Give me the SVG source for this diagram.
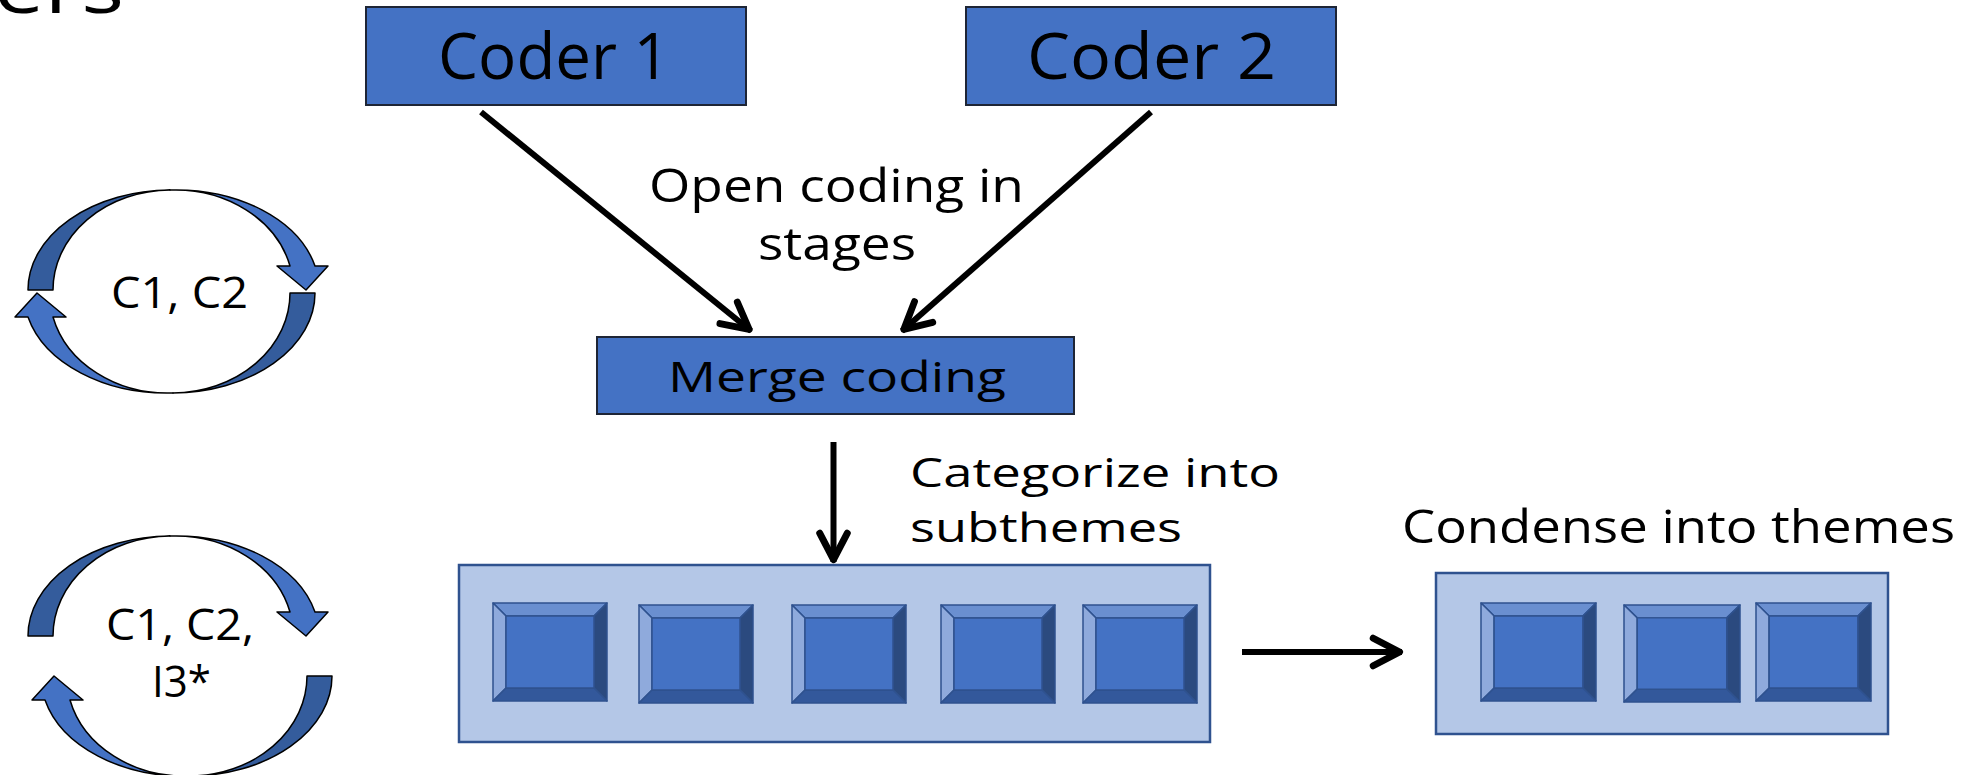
<svg xmlns="http://www.w3.org/2000/svg" xmlns:xlink="http://www.w3.org/1999/xlink" width="1964" height="775" viewBox="0 0 1964 775">
<style>
.t{font-family:'Open Sans','Liberation Sans',sans-serif;fill:#000;}
.box{fill:#4472C4;stroke:#1E2535;stroke-width:2;}
.cont{fill:#B4C7E7;stroke:#2F528F;stroke-width:2.5;}
.con{fill:none;stroke:#000;stroke-width:6;}
.dk{fill:#345C9C;stroke:#000;stroke-width:1.5;stroke-linejoin:round;}
.lt{fill:#4472C4;stroke:#000;stroke-width:1.5;stroke-linejoin:round;}
.bv{stroke:#2F528F;stroke-width:1.5;stroke-linejoin:round;}
</style>
<defs>
<marker id="arr" viewBox="-7 -5 9 10" refX="0.4" refY="0" markerWidth="9" markerHeight="10" orient="auto" markerUnits="strokeWidth" overflow="visible">
<path d="M-4.4,-2.3 L0,0 L-4.4,2.3" fill="none" stroke="#000" stroke-width="1.15" stroke-linecap="round" stroke-linejoin="round"/>
</marker>
<g id="arcTop">
<path class="dk" d="M28,290 A143,100 0 0 1 170,190 A118,100 0 0 0 53,290 Z"/>
<path class="lt" d="M170,190 A143,100 0 0 1 315,266 L328,266 L306,290 L277,266 L290,266 A118,100 0 0 0 170,190 Z"/>
</g>
<symbol id="bevel" viewBox="0 0 114 98" preserveAspectRatio="none" overflow="visible">
<path class="bv" fill="#6A8FD0" d="M0,0 H114 L101,13 H13 Z"/>
<path class="bv" fill="#8FAADC" d="M0,0 L13,13 V85 L0,98 Z"/>
<path class="bv" fill="#2B4A7F" d="M114,0 V98 L101,85 V13 Z"/>
<path class="bv" fill="#33589B" d="M0,98 H114 L101,85 H13 Z"/>
<rect class="bv" fill="#4472C4" x="13" y="13" width="88" height="72"/>
</symbol>
</defs>
<rect width="1964" height="775" fill="#fff"/>

<g id="title-fragment">
<text class="t" x="-6" y="13" font-size="72" textLength="130" lengthAdjust="spacingAndGlyphs">ers</text>
</g>

<g id="cycle-1">
<use xlink:href="#arcTop"/>
<use xlink:href="#arcTop" transform="rotate(180 171.5 291.5)"/>
<text class="t" x="111" y="308" font-size="44" textLength="137" lengthAdjust="spacingAndGlyphs">C1, C2</text>
</g>

<g id="cycle-2">
<use xlink:href="#arcTop" transform="translate(0 346)"/>
<use xlink:href="#arcTop" transform="translate(17 383) rotate(180 171.5 291.5)"/>
<text class="t" x="106" y="640" font-size="44" textLength="148" lengthAdjust="spacingAndGlyphs">C1, C2,</text>
<text class="t" x="152" y="697" font-size="44" textLength="59" lengthAdjust="spacingAndGlyphs">I3*</text>
</g>

<g id="coder-1">
<rect class="box" x="366" y="7" width="380" height="98"/>
<text class="t" x="438" y="79" font-size="64" textLength="232" lengthAdjust="spacingAndGlyphs">Coder 1</text>
</g>

<g id="coder-2">
<rect class="box" x="966" y="7" width="370" height="98"/>
<text class="t" x="1027" y="79" font-size="64" textLength="249" lengthAdjust="spacingAndGlyphs">Coder 2</text>
</g>

<g id="open-coding-label">
<text class="t" x="649" y="202" font-size="45" textLength="375" lengthAdjust="spacingAndGlyphs">Open coding in</text>
<text class="t" x="758" y="260" font-size="45" textLength="158" lengthAdjust="spacingAndGlyphs">stages</text>
</g>

<g id="merge-coding">
<rect class="box" x="597" y="337" width="477" height="77"/>
<text class="t" x="668" y="392" font-size="42" textLength="338" lengthAdjust="spacingAndGlyphs">Merge coding</text>
</g>

<g id="categorize-label">
<text class="t" x="910" y="487" font-size="40" textLength="370" lengthAdjust="spacingAndGlyphs">Categorize into</text>
<text class="t" x="910" y="542" font-size="40" textLength="272" lengthAdjust="spacingAndGlyphs">subthemes</text>
</g>

<g id="subthemes">
<rect class="cont" x="459" y="565" width="751" height="177"/>
<use xlink:href="#bevel" x="493" y="603" width="114" height="98"/>
<use xlink:href="#bevel" x="639" y="605" width="114" height="98"/>
<use xlink:href="#bevel" x="792" y="605" width="114" height="98"/>
<use xlink:href="#bevel" x="941" y="605" width="114" height="98"/>
<use xlink:href="#bevel" x="1083" y="605" width="114" height="98"/>
</g>

<g id="condense-label">
<text class="t" x="1402" y="543" font-size="46" textLength="553" lengthAdjust="spacingAndGlyphs">Condense into themes</text>
</g>

<g id="themes">
<rect class="cont" x="1436" y="573" width="452" height="161"/>
<use xlink:href="#bevel" x="1481" y="603" width="115" height="98"/>
<use xlink:href="#bevel" x="1624" y="605" width="116" height="97"/>
<use xlink:href="#bevel" x="1756" y="603" width="115" height="98"/>
</g>

<g id="connectors">
<line class="con" x1="481" y1="112" x2="751" y2="331" marker-end="url(#arr)"/>
<line class="con" x1="1151" y1="112" x2="902" y2="331" marker-end="url(#arr)"/>
<line class="con" x1="833.5" y1="442" x2="833.5" y2="562" marker-end="url(#arr)"/>
<line class="con" x1="1242" y1="652" x2="1402" y2="652" marker-end="url(#arr)"/>
</g>
</svg>
